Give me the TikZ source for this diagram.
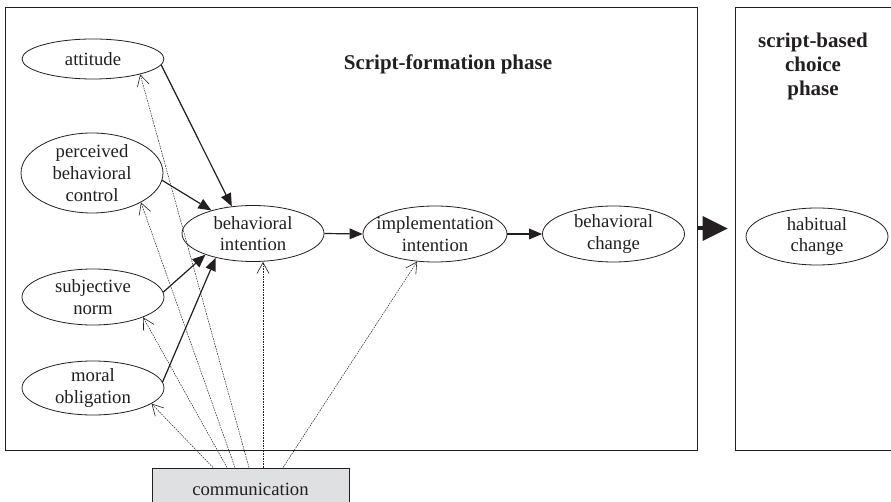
\documentclass[tikz,border=0pt]{standalone}
\usepackage{fontspec}
\setmainfont{Liberation Serif}
\usetikzlibrary{arrows.meta,shapes.geometric,calc}
\definecolor{commgray}{RGB}{223,224,226}
\definecolor{ink}{RGB}{35,31,32}

\begin{document}
\begin{tikzpicture}[x=1pt,y=-1pt,
  phasebox/.style={draw=ink, line width=0.9pt, inner sep=0pt},
  ell/.style={ellipse, draw=ink, line width=0.8pt, inner sep=0pt, minimum width=142pt},
  etxt/.style={font=\fontsize{18.7}{21.7}\selectfont, align=center, text=ink, inner sep=0pt},
  title/.style={font=\fontsize{21}{24}\selectfont\bfseries, align=center, text=ink},
  strong/.style={draw=ink, line width=1.2pt, -{Triangle[length=13pt,width=11pt,line width=0pt]}},
  influence/.style={draw=ink, line width=0.5pt, dash pattern=on 1.6pt off 1pt,
    -{Straight Barb[length=11pt,width=12pt,line width=0.6pt]}}
]
% page frame
\path[use as bounding box, clip] (0,0) rectangle (891,502);

% the two phases
\node[phasebox, minimum width=692pt, minimum height=443pt] (form) at (351,228.5) {};
\node[phasebox, minimum width=170pt, minimum height=443pt] (choice) at (820,228.5) {};
\node[title, anchor=base] (formtitle) at (448,70) {Script-formation phase};
\node[title] (choicetitle) at (813,66) {script-based\\choice\\phase};

% determinants
\node[ell, minimum height=40pt, label={[etxt]center:attitude}] (att) at (93,59) {};
\node[ell, minimum height=80pt, label={[etxt]center:perceived\\behavioral\\control}] (pbc) at (92,173) {};
\node[ell, minimum height=56pt, label={[etxt]center:subjective\\norm}] (sn) at (93,297) {};
\node[ell, minimum height=54pt, label={[etxt]center:moral\\obligation}] (mo) at (93,388) {};

% intention chain
\node[ell, minimum height=56pt, label={[etxt]center:behavioral\\intention}] (bi) at (253,233.5) {};
\node[ell, minimum width=144pt, minimum height=56pt, label={[etxt]center:implementation\\intention}] (ii) at (435,234) {};
\node[ell, minimum height=56pt, label={[etxt]center:behavioral\\change}] (bc) at (613.5,234) {};
\node[ell, minimum height=57pt, label={[etxt]center:habitual\\change}] (hc) at (817,236.5) {};

% communication
\node[draw=ink, line width=0.9pt, fill=commgray, minimum width=197pt, minimum height=42pt,
      etxt] (comm) at (250.5,489) {communication};

% direct effects
\draw[strong] (att.-5) -- (bi.128);
\draw[strong] (pbc.-6) -- (bi.151);
\draw[strong] (sn.4) -- (bi.204);
\draw[strong] (mo.5) -- (bi.213);
\draw[strong] (bi.east) -- (ii.west);
\draw[strong] (ii.east) -- (bc.west);

% transition between phases
\draw[draw=ink, line width=4pt, -{Triangle[length=25pt,width=25pt,line width=0pt]},
      shorten >=7pt] (form.east) -- (choice.west);

% influence of communication
\coordinate (o1) at ($(comm.north)+(-37.5,0)$);
\coordinate (o2) at ($(comm.north)+(-23.5,0)$);
\coordinate (o3) at ($(comm.north)+(-15.5,0)$);
\coordinate (o4) at ($(comm.north)+(-1.5,0)$);
\coordinate (o5) at ($(comm.north)+(12.5,0)$);
\coordinate (o6) at ($(comm.north)+(32.5,0)$);
\draw[influence] (o1) -- (mo.-15);
\draw[influence] (o2) -- (sn.-22);
\draw[influence] (o3) -- (pbc.-31);
\draw[influence] (o4) -- (att.-18);
\draw[influence] (o5) -- (o5 |- bi.south);
\draw[influence] (o6) -- (ii.237);
\end{tikzpicture}
\end{document}
